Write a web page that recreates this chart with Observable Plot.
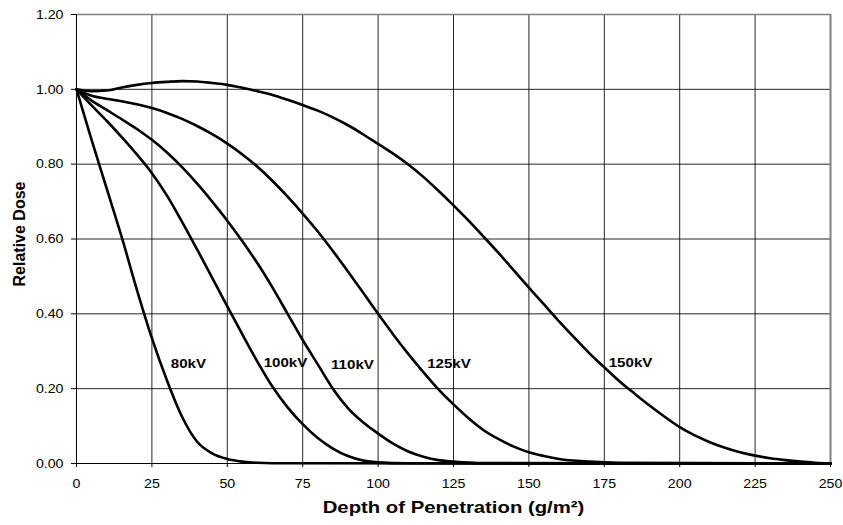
<!DOCTYPE html>
<html><head><meta charset="utf-8">
<script src="https://cdn.jsdelivr.net/npm/d3@7"></script>
<script src="https://cdn.jsdelivr.net/npm/@observablehq/plot@0.6"></script>
<style>
html,body{margin:0;padding:0;background:#fff;}
#chart svg{display:block;}
</style></head><body><div id="chart"></div>
<script>
// Axis ticks and titles
const xTicks = [0, 25, 50, 75, 100, 125, 150, 175, 200, 225, 250];
const yTicks = [0, 0.2, 0.4, 0.6, 0.8, 1.0, 1.2];
const xTitle = "Depth of Penetration (g/m²)";
const yTitle = "Relative Dose";

// Series: tube voltage curves (depth in g/m², relative dose)
const kv80Depth = [0, 5, 10, 15, 20, 25, 30, 35, 40, 45, 50, 55, 60, 70, 250];
const kv80Dose  = [1.0, 0.865, 0.735, 0.605, 0.465, 0.335, 0.222, 0.125, 0.058, 0.027, 0.012, 0.005, 0.002, 0.0005, 0];

const kv100Depth = [0, 5, 10, 15, 20, 25, 30, 35, 40, 45, 50, 55, 60, 65, 70, 75, 80, 85, 90, 95, 100, 110, 250];
const kv100Dose  = [1.0, 0.957, 0.916, 0.872, 0.826, 0.776, 0.716, 0.646, 0.572, 0.496, 0.42, 0.345, 0.272, 0.205, 0.15, 0.105, 0.068, 0.04, 0.02, 0.008, 0.003, 0.0005, 0];

const kv110Depth = [0, 5, 10, 15, 20, 25, 30, 35, 40, 45, 50, 55, 60, 65, 70, 75, 80, 85, 90, 95, 100, 105, 110, 115, 120, 125, 135, 250];
const kv110Dose  = [1.0, 0.97, 0.945, 0.92, 0.894, 0.865, 0.831, 0.792, 0.748, 0.70, 0.649, 0.594, 0.535, 0.47, 0.40, 0.33, 0.265, 0.20, 0.148, 0.11, 0.08, 0.053, 0.032, 0.018, 0.009, 0.005, 0.001, 0];

const kv125Depth = [0, 5, 10, 15, 20, 25, 30, 35, 40, 45, 50, 55, 60, 65, 70, 75, 80, 85, 90, 95, 100, 105, 110, 115, 120, 125, 130, 135, 140, 145, 150, 155, 160, 170, 180, 250];
const kv125Dose  = [1.0, 0.983, 0.975, 0.968, 0.96, 0.95, 0.937, 0.921, 0.902, 0.88, 0.855, 0.826, 0.793, 0.755, 0.713, 0.668, 0.62, 0.568, 0.513, 0.457, 0.40, 0.345, 0.293, 0.244, 0.198, 0.158, 0.121, 0.089, 0.065, 0.045, 0.03, 0.02, 0.012, 0.005, 0.002, 0];

const kv150Depth = [0, 5, 10, 15, 20, 25, 30, 35, 40, 45, 50, 55, 60, 65, 70, 75, 80, 85, 90, 95, 100, 105, 110, 115, 120, 125, 130, 135, 140, 145, 150, 155, 160, 165, 170, 175, 180, 185, 190, 195, 200, 205, 210, 215, 220, 225, 230, 235, 240, 245, 250];
const kv150Dose  = [1.0, 0.995, 0.997, 1.005, 1.012, 1.017, 1.02, 1.022, 1.021, 1.017, 1.012, 1.004, 0.995, 0.985, 0.972, 0.958, 0.943, 0.925, 0.904, 0.88, 0.854, 0.828, 0.799, 0.766, 0.729, 0.69, 0.649, 0.606, 0.562, 0.516, 0.47, 0.425, 0.38, 0.337, 0.295, 0.257, 0.22, 0.187, 0.155, 0.125, 0.097, 0.075, 0.057, 0.042, 0.03, 0.021, 0.014, 0.009, 0.005, 0.002, 0];

const seriesNames = ["80kV", "100kV", "110kV", "125kV", "150kV"];
const seriesDepth = [kv80Depth, kv100Depth, kv110Depth, kv125Depth, kv150Depth];
const seriesDose = [kv80Dose, kv100Dose, kv110Dose, kv125Dose, kv150Dose];

// Curve labels (in data coordinates)
const labelX = [37.1, 69.3, 91.5, 123.5, 183.7];
const labelY = [0.267, 0.27, 0.265, 0.267, 0.27];

const rows = [];
seriesNames.forEach((name, i) => seriesDepth[i].forEach((d, j) => rows.push({kv: name, depth: d, dose: seriesDose[i][j]})));
const labels = seriesNames.map((name, i) => ({name, x: labelX[i], y: labelY[i]}));

const font = "'Liberation Sans', Arial, Helvetica, sans-serif";

const plot = Plot.plot({
  width: 843,
  height: 525,
  marginLeft: 76,
  marginRight: 13,
  marginTop: 14,
  marginBottom: 62,
  style: {fontFamily: font, background: "#fff", color: "#000", overflow: "visible"},
  x: {domain: [0, 250]},
  y: {domain: [0, 1.2]},
  marks: [
    Plot.gridX({ticks: xTicks.slice(1, -1), stroke: "#000", strokeOpacity: 0.85, strokeWidth: 1}),
    Plot.gridY({ticks: yTicks.slice(1, -1), stroke: "#000", strokeOpacity: 0.85, strokeWidth: 1}),
    Plot.ruleX([xTicks[xTicks.length - 1]], {stroke: "#808080", strokeWidth: 2}),
    Plot.ruleY([yTicks[yTicks.length - 1]], {stroke: "#808080", strokeWidth: 1.5}),
    Plot.line(rows, {x: "depth", y: "dose", z: "kv", stroke: "#000", strokeWidth: 2.6, curve: "monotone-x"}),
    Plot.ruleX([0], {stroke: "#000", strokeWidth: 1}),
    Plot.ruleY([0], {stroke: "#000", strokeWidth: 1}),
    Plot.axisX({ticks: xTicks, tickSize: 4, tickPadding: 11, fontSize: 13, label: null, tickFormat: d => String(d), stroke: "#000"}),
    Plot.axisY({ticks: yTicks, tickSize: 5, tickPadding: 8, fontSize: 13, label: null, tickFormat: d3.format(".2f"), stroke: "#000"}),
    Plot.text(labels, {x: "x", y: "y", text: "name", fontWeight: "bold", fontSize: 13.5, fill: "#000"}),
    Plot.text([xTitle], {frameAnchor: "bottom", dy: 49, fontWeight: "bold", fontSize: 16.5, fill: "#000"}),
    Plot.text([yTitle], {frameAnchor: "left", textAnchor: "middle", dx: -57, dy: -5, rotate: -90, fontWeight: "bold", fontSize: 16, fill: "#000"})
  ]
});
document.getElementById("chart").append(plot);

// Reference text is slightly wider than tall: stretch horizontal glyphs
const factors = {"13px": 1.09, "13.5px": 1.12, "16.5px": 1.23};
plot.querySelectorAll("text").forEach(t => {
  const fs = getComputedStyle(t).fontSize;
  const f = factors[fs];
  if (!f) return;
  const len = t.getComputedTextLength();
  if (len > 0) {
    t.setAttribute("textLength", (len * f).toFixed(1));
    t.setAttribute("lengthAdjust", "spacingAndGlyphs");
  }
});
</script>
</body></html>
